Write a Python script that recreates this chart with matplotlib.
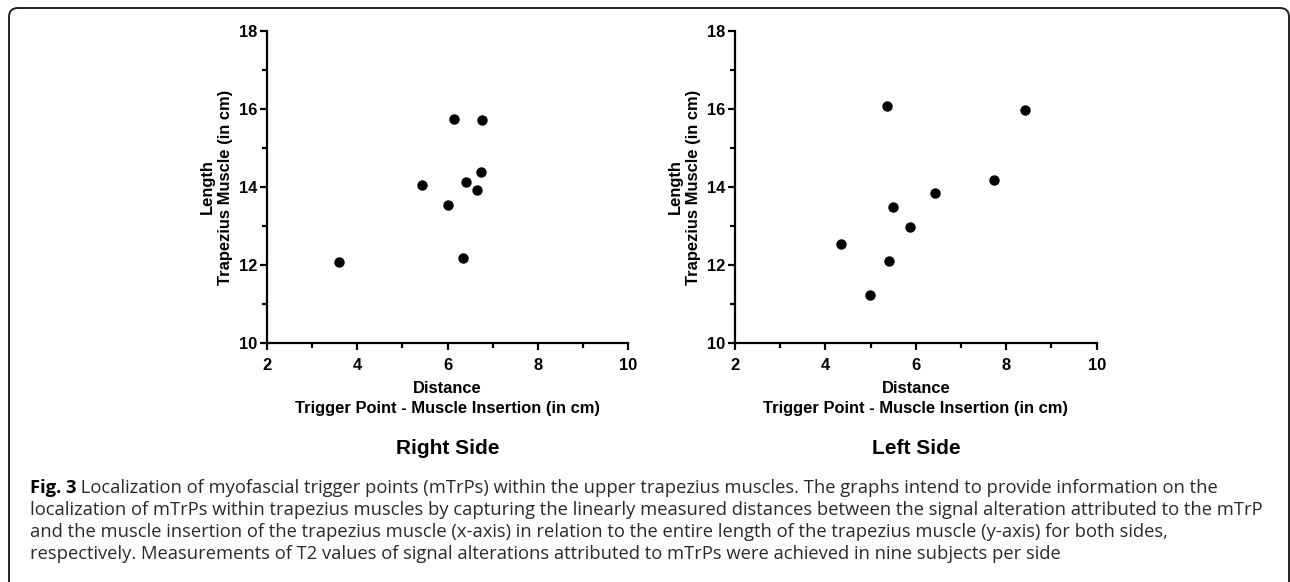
import matplotlib
matplotlib.use("Agg")
import matplotlib.pyplot as plt
from matplotlib.patches import FancyBboxPatch
from matplotlib.transforms import IdentityTransform
from matplotlib.ticker import MultipleLocator

# Data
right_x = [3.61, 5.43, 6.02, 6.14, 6.40, 6.34, 6.65, 6.75, 6.76]
right_y = [12.07, 14.05, 13.53, 15.75, 14.13, 12.17, 13.92, 14.39, 15.73]
left_x = [5.36, 8.41, 7.72, 6.43, 5.50, 5.87, 4.34, 5.41, 4.99]
left_y = [16.07, 15.98, 14.18, 13.84, 13.49, 12.97, 12.54, 12.09, 11.22]
panel_titles = ["Right Side", "Left Side"]
x_label = "Distance\nTrigger Point - Muscle Insertion (in cm)"
y_label = "Length\nTrapezius Muscle (in cm)"
x_ticks = [2, 4, 6, 8, 10]
y_ticks = [10, 12, 14, 16, 18]
caption_bold = "Fig. 3"
caption_lines = [
    " Localization of myofascial trigger points (mTrPs) within the upper trapezius muscles. The graphs intend to provide information on the",
    "localization of mTrPs within trapezius muscles by capturing the linearly measured distances between the signal alteration attributed to the mTrP",
    "and the muscle insertion of the trapezius muscle (x-axis) in relation to the entire length of the trapezius muscle (y-axis) for both sides,",
    "respectively. Measurements of T2 values of signal alterations attributed to mTrPs were achieved in nine subjects per side",
]

W, H = 1290, 582
fig = plt.figure(figsize=(W / 100, H / 100), dpi=100)
fig.patch.set_facecolor("white")

sans = ["Liberation Sans", "DejaVu Sans"]
lab_size = 11.9

def px_axes(x0, x1, ytop, ybot):
    return [x0 / W, 1 - ybot / H, (x1 - x0) / W, (ybot - ytop) / H]

axes_pos = [px_axes(266.7, 628.3, 31, 343), px_axes(735, 1096.7, 31, 343)]
data = [(right_x, right_y), (left_x, left_y)]

for pos, (xs, ys), title in zip(axes_pos, data, panel_titles):
    ax = fig.add_axes(pos)
    ax.scatter(xs, ys, s=42, color="black", zorder=3, clip_on=False)
    ax.set_xlim(2, 10)
    ax.set_ylim(10, 18)
    ax.set_xticks(x_ticks)
    ax.set_yticks(y_ticks)
    ax.xaxis.set_minor_locator(MultipleLocator(1))
    ax.yaxis.set_minor_locator(MultipleLocator(1))
    for s in ["top", "right"]:
        ax.spines[s].set_visible(False)
    for s in ["left", "bottom"]:
        ax.spines[s].set_linewidth(1.6)
    ax.tick_params(which="major", length=5, width=1.6, direction="out")
    ax.tick_params(which="minor", length=3.5, width=1.6, direction="out")
    ax.tick_params(axis="x", which="major", pad=5.5)
    ax.tick_params(axis="y", which="major", pad=2)
    for lab in ax.get_xticklabels() + ax.get_yticklabels():
        lab.set_fontfamily(sans)
        lab.set_fontweight("bold")
        lab.set_fontsize(lab_size)
    ax.set_xlabel(x_label, fontfamily=sans, fontweight="bold", fontsize=lab_size, labelpad=6, linespacing=1.45)
    ax.set_ylabel(y_label, fontfamily=sans, fontweight="bold", fontsize=lab_size, labelpad=4, linespacing=1.25)
    cx = (pos[0] + pos[2] / 2)
    fig.text(cx, 1 - 448 / H, title, ha="center", va="center",
             fontfamily=sans, fontweight="bold", fontsize=15)

# Caption
cap_font = ["Open Sans", "DejaVu Sans"]
cap_size = 13.2
cap_color = "#2a2a2a"
line_y = [488, 510, 532, 554]
t0 = fig.text(30 / W, 1 - line_y[0] / H, caption_bold, ha="left", va="center",
              fontfamily=cap_font, fontweight="bold", fontsize=cap_size, color="black")
fig.canvas.draw()
bb = t0.get_window_extent()
fig.text(bb.x1 / W, 1 - line_y[0] / H, caption_lines[0], ha="left", va="center",
         fontfamily=cap_font, fontsize=cap_size, color=cap_color)
for ln, yy in zip(caption_lines[1:], line_y[1:]):
    fig.text(30 / W, 1 - yy / H, ln, ha="left", va="center",
             fontfamily=cap_font, fontsize=cap_size, color=cap_color)

# Rounded frame
frame = FancyBboxPatch((9, -10), 1280, 574 + 10, boxstyle="round,pad=0,rounding_size=9",
                       transform=IdentityTransform(), fill=False, edgecolor="#222222",
                       linewidth=1.4)
fig.patches.append(frame)

fig.savefig("out.png", dpi=100)
